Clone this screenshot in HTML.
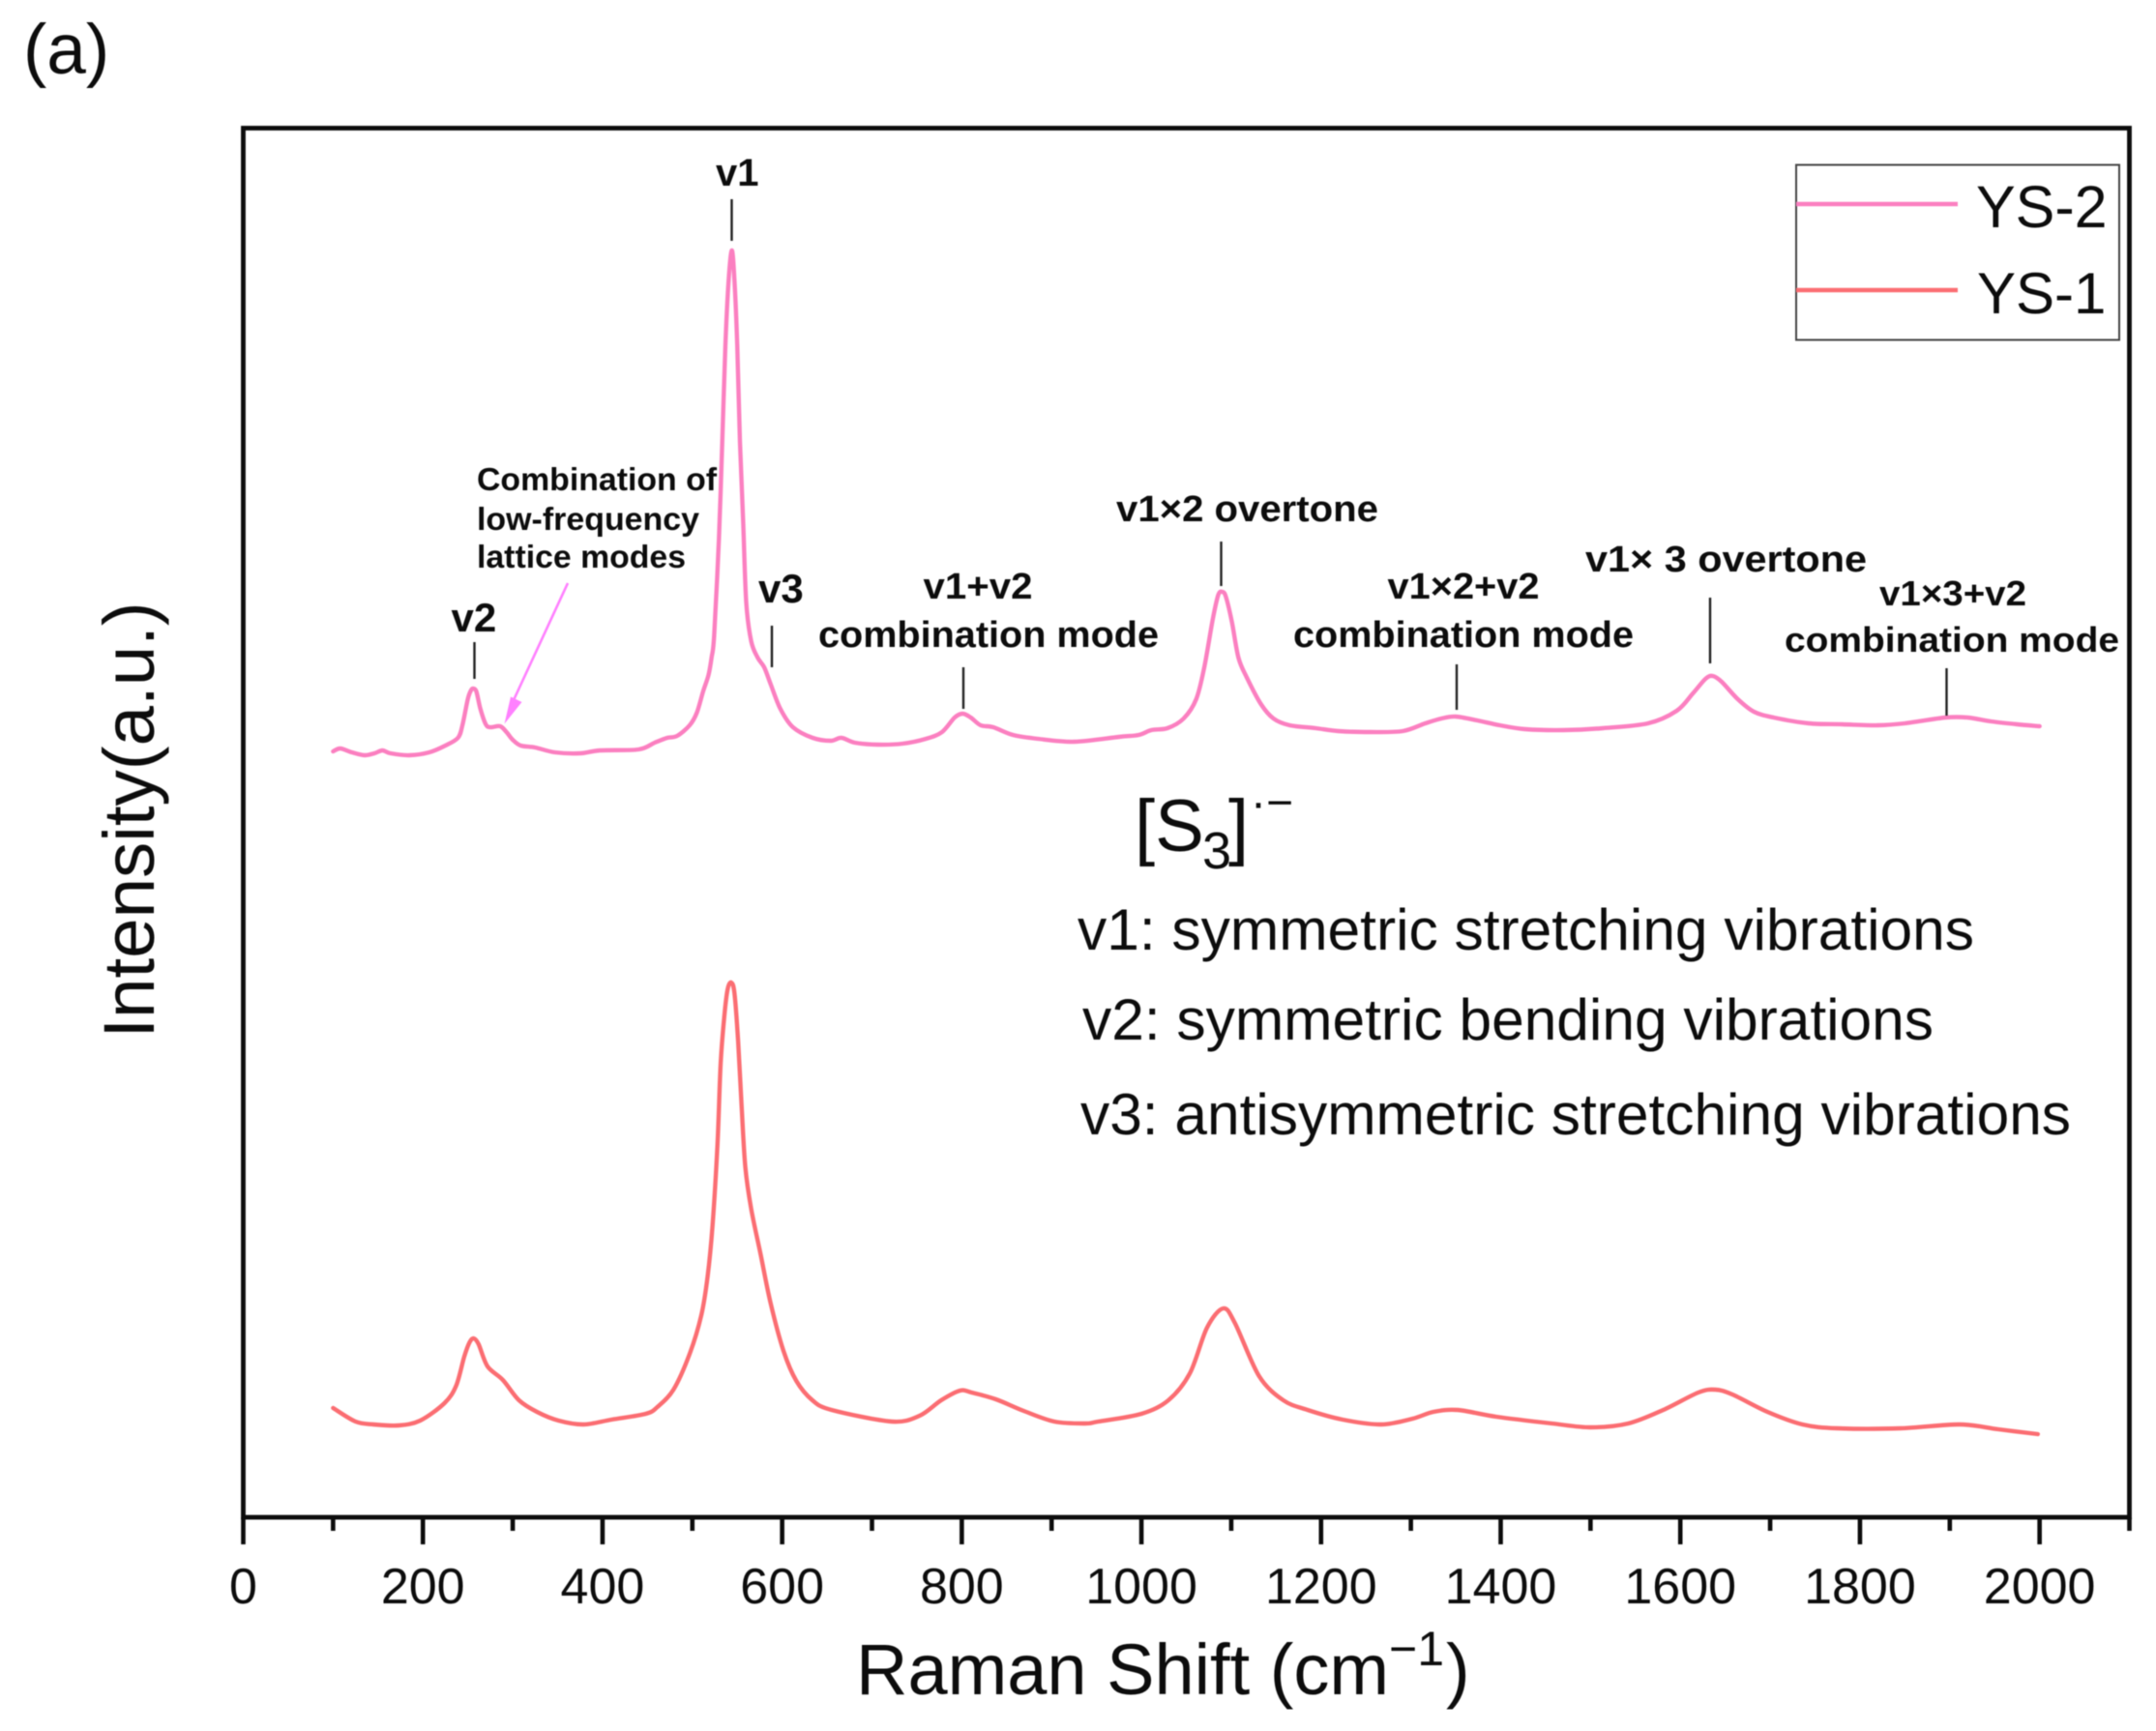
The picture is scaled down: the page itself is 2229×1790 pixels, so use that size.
<!DOCTYPE html>
<html lang="en">
<head>
<meta charset="utf-8">
<title>Raman spectra of YS-1 and YS-2</title>
<style>
html,body{margin:0;padding:0;background:#fff;width:2229px;height:1790px;overflow:hidden}
svg{display:block;filter:blur(0.6px)}
text{font-family:"Liberation Sans",Arial,sans-serif;fill:#0c0c0c}
.anno{font-weight:bold;font-size:38px}
.anno-small{font-weight:bold;font-size:33.5px}
.desc{font-size:60px}
.tick-label{font-size:52px;text-anchor:middle}
.leader{stroke:#222;stroke-width:2.4;fill:none}
</style>
</head>
<body>
<svg id="chart" width="2229" height="1790" viewBox="0 0 2229 1790" xmlns="http://www.w3.org/2000/svg">
  <rect x="0" y="0" width="2229" height="1790" fill="#fff"/>
  <text x="24" y="76" font-size="73">(a)</text>

  <g id="series-layer"></g>
  <g id="axis-layer"></g>

  <rect x="251.5" y="132.5" width="1950" height="1436.5" fill="none" stroke="#0c0c0c" stroke-width="4.8"/>

  <text transform="translate(159,848) rotate(-90)" text-anchor="middle" font-size="74.5">Intensity(a.u.)</text>
  <text font-size="74"><tspan x="885" y="1752">Raman Shift (cm</tspan><tspan x="1436" y="1722" font-size="50">−1</tspan><tspan x="1495" y="1752">)</tspan></text>

  <g>
    <rect x="1857" y="170.5" width="334" height="181" fill="none" stroke="#444" stroke-width="2"/>
    <line x1="1857" x2="2024" y1="211" y2="211" stroke="#fb7fc0" stroke-width="4.6"/>
    <text x="2043" y="235" font-size="61">YS-2</text>
    <line x1="1857" x2="2024" y1="300" y2="300" stroke="#fb6d72" stroke-width="4.6"/>
    <text x="2044" y="324" font-size="60">YS-1</text>
  </g>

  <g>
    <text class="anno" x="740" y="192" font-size="40" style="font-size:40px">v1</text>
    <line class="leader" x1="756.5" x2="756.5" y1="206" y2="249"/>
    <text class="anno" x="466.5" y="653" style="font-size:42px">v2</text>
    <line class="leader" x1="490.5" x2="490.5" y1="664" y2="702"/>
    <text class="anno" x="784" y="623" style="font-size:42px">v3</text>
    <line class="leader" x1="798" x2="798" y1="647" y2="690"/>

    <text class="anno-small" x="493" y="507" textLength="248" lengthAdjust="spacingAndGlyphs">Combination of</text>
    <text class="anno-small" x="493" y="548" textLength="230" lengthAdjust="spacingAndGlyphs">low-frequency</text>
    <text class="anno-small" x="493" y="587" textLength="216" lengthAdjust="spacingAndGlyphs">lattice modes</text>
    <line x1="587" y1="603" x2="531" y2="724" stroke="#ff80ff" stroke-width="2.6"/>
    <polygon points="521.5,748.5 528,720.5 539.5,726" fill="#ff80ff"/>

    <text class="anno" x="954.5" y="619" textLength="113" lengthAdjust="spacingAndGlyphs">v1+v2</text>
    <text class="anno" x="846" y="669" textLength="352" lengthAdjust="spacingAndGlyphs">combination mode</text>
    <line class="leader" x1="996" x2="996" y1="690" y2="733"/>

    <text class="anno" x="1154" y="539" textLength="271" lengthAdjust="spacingAndGlyphs">v1×2 overtone</text>
    <line class="leader" x1="1262.5" x2="1262.5" y1="560" y2="606"/>

    <text class="anno" x="1434.5" y="619" textLength="157" lengthAdjust="spacingAndGlyphs">v1×2+v2</text>
    <text class="anno" x="1337" y="669" textLength="352" lengthAdjust="spacingAndGlyphs">combination mode</text>
    <line class="leader" x1="1506" x2="1506" y1="687" y2="734"/>

    <text class="anno" x="1639" y="591" textLength="291" lengthAdjust="spacingAndGlyphs">v1× 3 overtone</text>
    <line class="leader" x1="1768" x2="1768" y1="618" y2="686"/>

    <text class="anno" x="1943" y="626" style="font-size:36px" textLength="152" lengthAdjust="spacingAndGlyphs">v1×3+v2</text>
    <text class="anno" x="1845" y="674" style="font-size:36px" textLength="346" lengthAdjust="spacingAndGlyphs">combination mode</text>
    <line class="leader" x1="2012.5" x2="2012.5" y1="691" y2="740"/>
  </g>

  <g>
    <text font-size="76"><tspan x="1173" y="880">[S</tspan><tspan x="1243" y="898" font-size="54">3</tspan><tspan x="1270" y="880">]</tspan></text>
    <text x="1293" y="846" font-size="48">·−</text>
  </g>
  <text class="desc" x="1114" y="982" textLength="927" lengthAdjust="spacingAndGlyphs">v1: symmetric stretching vibrations</text>
  <text class="desc" x="1119" y="1075" textLength="880" lengthAdjust="spacingAndGlyphs">v2: symmetric bending vibrations</text>
  <text class="desc" x="1117" y="1173" textLength="1024" lengthAdjust="spacingAndGlyphs">v3: antisymmetric stretching vibrations</text>
</svg>

<script>
const xMajorTicks = [0, 200, 400, 600, 800, 1000, 1200, 1400, 1600, 1800, 2000];
const xMinorTicks = [100, 300, 500, 700, 900, 1100, 1300, 1500, 1700, 1900, 2100];

const ys2Shift = [100,108,121,135,146,155,164,185,207,225,239,244,250,253.5,256,259.5,264,270,275,286,293,300,309,325,347,375,397,440,458,472,483,497,505,512,518,521.4,524.3,529.6,533.3,536.8,540.4,544,546.9,550,553,556.6,560,565.5,572.7,580,587,598,612,634,654,666,681,706,734,760,778,792,801,810,821,835,857,885,925,975,997,1011,1029,1047,1061,1070,1079.5,1085.6,1090,1094,1100.7,1108,1117,1133,1147,1165,1194,1219,1255,1291,1316,1334,1350,1374,1399,1427,1470,1514,1564,1596,1614,1628,1636,1646,1664,1682,1704,1743,1780,1820,1850,1895,1920,1946,1975,2000];
const ys2Intensity = [792,795,791,788,790,793,790,788,791,798,806,819,846,855,857,854,836,820,817,818,812,804,798,796,791,790,793,794,801,806,808,819,832,854,871,889,912,1012,1112,1212,1279,1310,1279,1212,1112,1029,946,906,889,879,862,836,817,806,803,806,801,799,800,805,812,827,831,827,819,817,809,805,802,807,809,814,816,826,846,879,929,954,957,952,926,889,869,841,826,819,816,813,812,813,821,826,828,824,819,815,814,816,821,834,852,867,870,864,846,833,827,821,820,819,821,827,827,823,820,818];

const ys1Shift = [100,125,145,173,197,224,237,246,252,256.6,262,272,289,307,327,351,379,410,448,461,479,497,510,517,522.5,528,531.5,535.7,539.3,543.3,546.9,551,554.8,559,565.5,576,587,601.5,615.8,633.7,655,722,753,777,798,811,838,869,903,937,952,1000,1030,1054,1073,1091,1104,1131,1158,1185,1224,1267,1302,1325,1352,1395,1457,1500,1542,1581,1620,1639,1658,1697,1736,1775,1845,1911,1954,1998];
const ys1Intensity = [113,99,96,95,100,118,136,166,181,185,179,156,142,121,109,100,96,101,107,114,132,169,209,249,302,386,469,519,546,553,542,492,426,362,319,272,222,172,141,121,111,99,105,121,131,129,122,110,99,97,99,107,121,149,196,216,201,146,121,111,101,96,102,109,111,104,97,93,97,111,129,132,127,109,96,92,92,96,91,86];

const SVG_NS = 'http://www.w3.org/2000/svg';
const xDomainMax = 2100;
const yDomainMax = 1437;
const plotLeft = 251.5, plotRight = 2201.5, plotTop = 132, plotBottom = 1569;

function xScale(v) { return plotLeft + (v / xDomainMax) * (plotRight - plotLeft); }
function yScale(v) { return plotBottom - (v / yDomainMax) * (plotBottom - plotTop); }

function linePath(xs, ys) {
  const pts = xs.map((x, i) => [xScale(x), yScale(ys[i])]);
  let d = 'M' + pts[0][0].toFixed(2) + ' ' + pts[0][1].toFixed(2);
  const t = 0.16;
  for (let i = 0; i < pts.length - 1; i++) {
    const p0 = pts[Math.max(i - 1, 0)], p1 = pts[i], p2 = pts[i + 1], p3 = pts[Math.min(i + 2, pts.length - 1)];
    const c1x = p1[0] + (p2[0] - p0[0]) * t, c1y = p1[1] + (p2[1] - p0[1]) * t;
    const c2x = p2[0] - (p3[0] - p1[0]) * t, c2y = p2[1] - (p3[1] - p1[1]) * t;
    d += 'C' + c1x.toFixed(2) + ' ' + c1y.toFixed(2) + ' ' + c2x.toFixed(2) + ' ' + c2y.toFixed(2) + ' ' + p2[0].toFixed(2) + ' ' + p2[1].toFixed(2);
  }
  return d;
}

const seriesLayer = document.getElementById('series-layer');
const axisLayer = document.getElementById('axis-layer');

const pinkLine = document.createElementNS(SVG_NS, 'path');


pinkLine.setAttribute('d', linePath(ys2Shift, ys2Intensity));
pinkLine.setAttribute('fill', 'none');
pinkLine.setAttribute('stroke', '#fb7fc0');
pinkLine.setAttribute('stroke-width', '4.4');
pinkLine.setAttribute('stroke-linejoin', 'round');
pinkLine.setAttribute('stroke-linecap', 'round');
seriesLayer.appendChild(pinkLine);

const redLine = document.createElementNS(SVG_NS, 'path');


redLine.setAttribute('d', linePath(ys1Shift, ys1Intensity));
redLine.setAttribute('fill', 'none');
redLine.setAttribute('stroke', '#fb6d72');
redLine.setAttribute('stroke-width', '4.4');
redLine.setAttribute('stroke-linejoin', 'round');
redLine.setAttribute('stroke-linecap', 'round');
seriesLayer.appendChild(redLine);

xMajorTicks.forEach(function (v) {
  const tick = document.createElementNS(SVG_NS, 'line');
  
  
  tick.setAttribute('x1', xScale(v));
  tick.setAttribute('x2', xScale(v));
  tick.setAttribute('y1', plotBottom);
  tick.setAttribute('y2', plotBottom + 28);
  tick.setAttribute('stroke', '#0c0c0c');
  tick.setAttribute('stroke-width', '4.6');
  axisLayer.appendChild(tick);

  const label = document.createElementNS(SVG_NS, 'text');
  
  
  label.setAttribute('class', 'tick-label');
  label.setAttribute('x', xScale(v));
  label.setAttribute('y', 1658);
  label.textContent = String(v);
  axisLayer.appendChild(label);
});

xMinorTicks.forEach(function (v) {
  const tick = document.createElementNS(SVG_NS, 'line');
  
  
  tick.setAttribute('x1', xScale(v));
  tick.setAttribute('x2', xScale(v));
  tick.setAttribute('y1', plotBottom);
  tick.setAttribute('y2', plotBottom + 14);
  tick.setAttribute('stroke', '#0c0c0c');
  tick.setAttribute('stroke-width', '4.6');
  axisLayer.appendChild(tick);
});
</script>
</body>
</html>
